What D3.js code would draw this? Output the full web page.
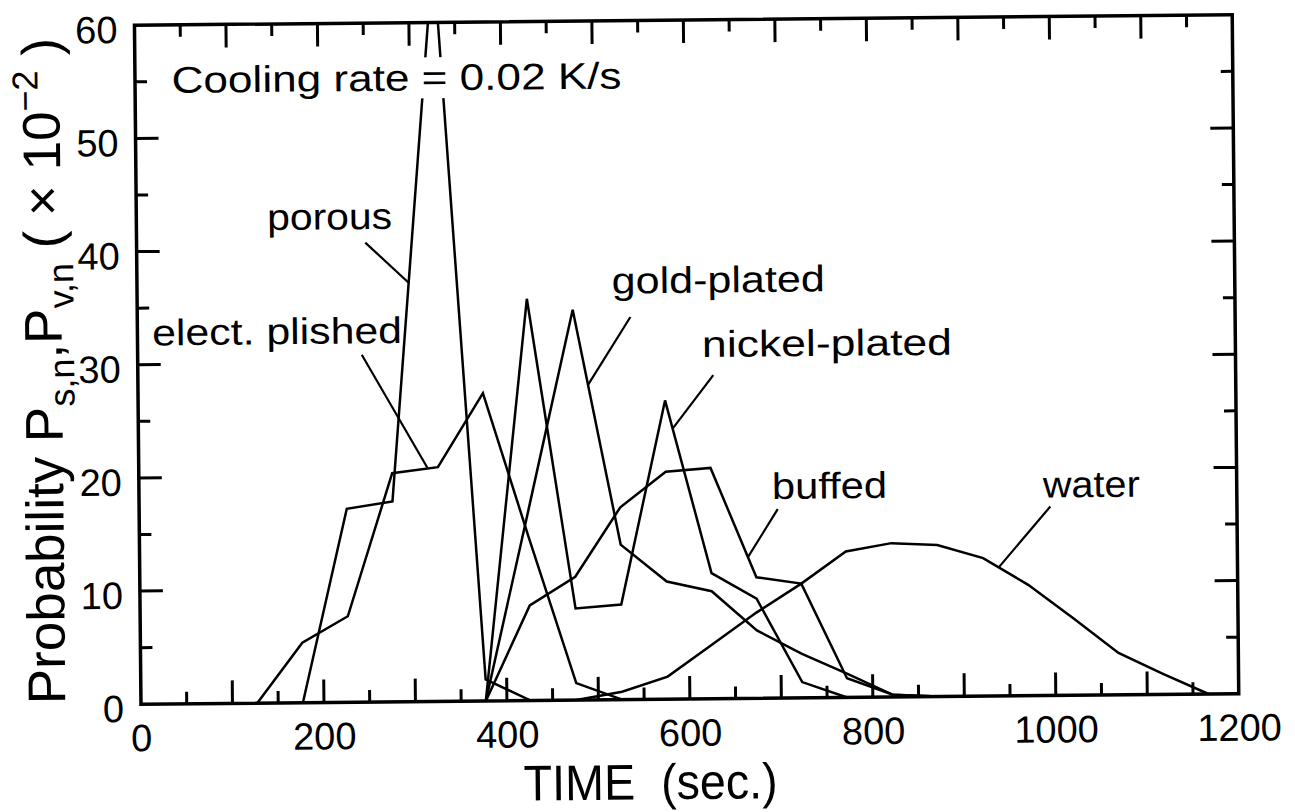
<!DOCTYPE html>
<html>
<head>
<meta charset="utf-8">
<script src="https://cdn.jsdelivr.net/npm/d3@7"></script>
<style>
  body { margin: 0; background: #fff; }
  svg { display: block; }
  text { font-family: "Liberation Sans", Arial, sans-serif; fill: #000; }
</style>
</head>
<body>
<div id="chart"></div>
<script>
const width = 1295;
const height = 812;

// time (sec.) and probability (x 10^-2)
const electTime = [127, 177, 227, 277, 327, 377, 426, 476, 526];
const electProb = [0, 5.3, 7.6, 20.2, 20.7, 27.2, 14.3, 1.5, 0];

const porousTime = [177, 227, 277, 327, 377, 426];
const porousProb = [0, 17.1, 17.7, 66, 1.9, 0];

const nickelTime = [377, 426, 476, 526, 576, 625, 674, 723, 772];
const nickelProb = [0, 35.5, 8.1, 8.4, 26.4, 11.1, 8.8, 1.4, 0];

const goldTime = [377, 426, 476, 526, 576, 625, 674, 723, 772, 822, 872];
const goldProb = [0, 17.0, 34.5, 13.7, 10.4, 9.5, 6.0, 3.9, 2.1, 0.2, 0];

const buffedTime = [377, 426, 476, 526, 576, 625, 674, 723, 772, 822, 872];
const buffedProb = [0, 8.4, 10.9, 17.0, 20.1, 20.4, 10.7, 10.1, 1.7, 0.2, 0];

const waterTime = [476, 526, 576, 625, 674, 723, 772, 822, 872, 922, 971, 1020, 1069, 1118, 1167];
const waterProb = [0, 0.7, 2.0, 4.8, 7.6, 10.1, 12.9, 13.6, 13.4, 12.2, 9.8, 6.8, 3.7, 1.8, 0];

// tick values
const xLabelTicks = [0, 200, 400, 600, 800, 1000, 1200];
const xMajorTicks = d3.range(100, 1200, 100);
const xMinorTicks = d3.range(50, 1200, 100);
const yLabelTicks = [0, 10, 20, 30, 40, 50, 60];
const yMajorTicks = [10, 20, 30, 40, 50];
const yMinorTicks = [5, 15, 25, 35, 45, 55];

const series = [
  { name: "elect. plished", time: electTime, prob: electProb },
  { name: "porous", time: porousTime, prob: porousProb },
  { name: "nickel-plated", time: nickelTime, prob: nickelProb },
  { name: "gold-plated", time: goldTime, prob: goldProb },
  { name: "buffed", time: buffedTime, prob: buffedProb },
  { name: "water", time: waterTime, prob: waterProb },
];

// curve labels: text anchor and leader start in data units, leader end time on the curve
const labels = [
  { name: "porous", at: [143, 41.8], len: 125, from: [250, 40.6], toTime: 297 },
  { name: "elect. plished", at: [16, 31.7], len: 250, from: [245, 30.7], toTime: 316 },
  { name: "gold-plated", at: [519, 35.9], len: 213, from: [539, 33.8], toTime: 492 },
  { name: "nickel-plated", at: [617, 30.2], len: 250, from: [629, 28.6], toTime: 584 },
  { name: "buffed", at: [692, 17.6], len: 115, from: [698, 16.7], toTime: 665 },
  { name: "water", at: [988, 17.5], len: 97, from: [996, 16.7], toTime: 939 },
];

const plot = { left: 137.7, right: 1235.5, top: 20, bottom: 699 };
const majorLen = 23;
const minorLen = 12;

const svg = d3.select("#chart")
  .append("svg")
  .attr("width", width)
  .attr("height", height);

svg.append("rect").attr("width", width).attr("height", height).attr("fill", "#fff");

// the scanned figure is tilted a little
const root = svg.append("g")
  .attr("transform", `rotate(-0.55, ${(plot.left + plot.right) / 2}, ${(plot.top + plot.bottom) / 2})`);

const x = d3.scaleLinear().domain([0, 1200]).range([plot.left, plot.right]);
const y = d3.scaleLinear().domain([0, 60]).range([plot.bottom, plot.top]);

root.append("clipPath")
  .attr("id", "plot-clip")
  .append("rect")
  .attr("x", plot.left)
  .attr("y", plot.top)
  .attr("width", plot.right - plot.left)
  .attr("height", plot.bottom - plot.top);

// curves
const line = d3.line()
  .x((d) => x(d[0]))
  .y((d) => y(d[1]));

root.append("g")
  .attr("clip-path", "url(#plot-clip)")
  .selectAll("path")
  .data(series)
  .enter()
  .append("path")
  .attr("d", (s) => line(s.time.map((t, i) => [t, s.prob[i]])))
  .attr("fill", "none")
  .attr("stroke", "#000")
  .attr("stroke-width", 2.5)
  .attr("stroke-linejoin", "miter");

// inward ticks on all four sides, one path per side
const xTicks = xMajorTicks.map((v) => ({ v, len: majorLen }))
  .concat(xMinorTicks.map((v) => ({ v, len: minorLen })));
const yTicks = yMajorTicks.map((v) => ({ v, len: majorLen }))
  .concat(yMinorTicks.map((v) => ({ v, len: minorLen })));

function tickPath(list, horizontal, edge, dir) {
  const p = d3.path();
  list.forEach((d) => {
    if (horizontal) {
      p.moveTo(x(d.v), edge);
      p.lineTo(x(d.v), edge + dir * d.len);
    } else {
      p.moveTo(edge, y(d.v));
      p.lineTo(edge + dir * d.len, y(d.v));
    }
  });
  return p.toString();
}

const tickSides = [
  tickPath(xTicks, true, plot.bottom, -1),
  tickPath(xTicks, true, plot.top, 1),
  tickPath(yTicks, false, plot.left, 1),
  tickPath(yTicks, false, plot.right, -1),
];

root.append("g")
  .selectAll("path")
  .data(tickSides)
  .enter()
  .append("path")
  .attr("d", (d) => d)
  .attr("fill", "none")
  .attr("stroke", "#000")
  .attr("stroke-width", 3);

// tick labels through d3 axes
function styleAxis(g) {
  g.select(".domain").remove();
  g.selectAll(".tick line").remove();
  g.selectAll(".tick text").attr("font-size", 38).attr("fill", "#000");
  g.attr("font-family", null);
}

root.append("g")
  .attr("transform", `translate(0,${plot.bottom})`)
  .call(d3.axisBottom(x).tickValues(xLabelTicks).tickFormat(d3.format("d")).tickSize(0).tickPadding(20))
  .call(styleAxis);

root.append("g")
  .attr("transform", `translate(${plot.left},0)`)
  .call(d3.axisLeft(y).tickValues(yLabelTicks).tickFormat(d3.format("d")).tickSize(0).tickPadding(17))
  .call(styleAxis)
  .selectAll(".tick text")
  .attr("dy", "0.45em");

// frame
root.append("rect")
  .attr("x", plot.left)
  .attr("y", plot.top)
  .attr("width", plot.right - plot.left)
  .attr("height", plot.bottom - plot.top)
  .attr("fill", "none")
  .attr("stroke", "#000")
  .attr("stroke-width", 3.5);

// cooling rate note, knocked out of the curves behind it
const note = root.append("g");
const noteText = note.append("text")
  .attr("x", x(40))
  .attr("y", y(54))
  .attr("font-size", 37)
  .attr("textLength", 450)
  .attr("lengthAdjust", "spacingAndGlyphs")
  .text("Cooling rate = 0.02 K/s");
const bb = noteText.node().getBBox();
note.insert("rect", "text")
  .attr("x", bb.x - 2)
  .attr("y", bb.y)
  .attr("width", bb.width + 4)
  .attr("height", bb.height)
  .attr("fill", "#fff");

// curve labels with leader lines
labels.forEach((lab) => {
  const s = series.find((d) => d.name === lab.name);
  const onCurve = d3.scaleLinear().domain(s.time).range(s.prob);
  root.append("line")
    .attr("x1", x(lab.from[0]))
    .attr("y1", y(lab.from[1]))
    .attr("x2", x(lab.toTime))
    .attr("y2", y(onCurve(lab.toTime)))
    .attr("stroke", "#000")
    .attr("stroke-width", 2.2);
  root.append("text")
    .attr("x", x(lab.at[0]))
    .attr("y", y(lab.at[1]))
    .attr("font-size", 37)
    .attr("textLength", lab.len)
    .attr("lengthAdjust", "spacingAndGlyphs")
    .text(lab.name);
});

// axis titles
root.append("text")
  .attr("x", (plot.left + plot.right) / 2 - 40)
  .attr("y", 799)
  .attr("text-anchor", "middle")
  .attr("font-size", 50)
  .attr("textLength", 254)
  .attr("lengthAdjust", "spacingAndGlyphs")
  .style("white-space", "pre")
  .text("TIME  (sec.)");

const yTitle = root.append("text")
  .attr("transform", "translate(62,365) rotate(-90)")
  .attr("text-anchor", "middle")
  .attr("font-size", 53);
yTitle.append("tspan").text("Probability P");
yTitle.append("tspan").attr("font-size", 36).attr("dy", 12).text("s,n");
yTitle.append("tspan").attr("dy", -12).text(",P");
yTitle.append("tspan").attr("font-size", 36).attr("dy", 12).text("v,n");
yTitle.append("tspan").attr("dy", -12).style("white-space", "pre").text(" ( \u00d7 10");
yTitle.append("tspan").attr("font-size", 36).attr("dy", -22).text("\u22122");
yTitle.append("tspan").attr("dy", 22).style("white-space", "pre").text(" )");
</script>
</body>
</html>
